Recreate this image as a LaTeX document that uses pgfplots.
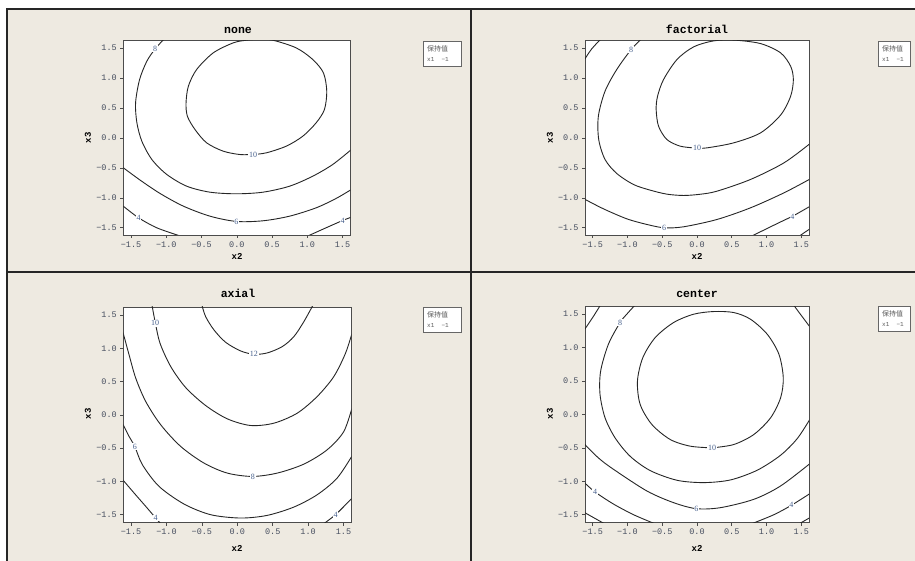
\documentclass[border=0pt]{standalone}
\usepackage{fontspec}
\setmainfont{Liberation Serif}
\newfontfamily\monof{Liberation Mono}
\newfontfamily\cjk{Noto Sans CJK SC}
\usepackage{pgfplots}
\pgfplotsset{compat=1.18}
\definecolor{bg}{RGB}{238,234,225}
\definecolor{tickc}{RGB}{70,78,95}
\definecolor{lblc}{RGB}{70,95,140}
\pgfplotsset{
  ctr/.style={
    scale only axis,
    xmin=-1.61, xmax=1.61, ymin=-1.62, ymax=1.62,
    axis background/.style={fill=white},
    axis line style={black!70, line width=0.9pt},
    xtick={-1.5,-1,-0.5,0,0.5,1,1.5},
    ytick={-1.5,-1,-0.5,0,0.5,1,1.5},
    xticklabels={−1.5,−1.0,−0.5,0.0,0.5,1.0,1.5},
    yticklabels={−1.5,−1.0,−0.5,0.0,0.5,1.0,1.5},
    tick align=outside, tick pos=left,
    major tick length=3pt,
    tick style={black!70, line width=0.6pt},
    ticklabel style={font=\monof\fontsize{8.5}{9}\selectfont, text=tickc},
    clip=true,
  },
  cl/.style={black!85, line width=0.9pt, smooth, no markers},
}
\tikzset{cn/.style={fill=white, inner sep=0.8pt, font=\fontsize{8}{8}\selectfont, text=lblc}}
\begin{document}
\begin{tikzpicture}[x=1pt,y=1pt]
\fill[white] (0,0) rectangle (915,561);
\fill[bg] (7,0) rectangle (915,552);
\draw[black!85, line width=1.5pt] (7,0) -- (7,552) -- (915,552);
\draw[black!85, line width=1.5pt] (7,289) -- (915,289);
\draw[black!85, line width=1.5pt] (471,0) -- (471,552);

% ---------- panel 1: none ----------
\begin{axis}[ctr, at={(123.3pt,326pt)}, anchor=south west, width=227pt, height=194.3pt]
\addplot[cl] coordinates {(0.231,-0.278) (0.419,-0.25) (0.701,-0.139) (0.937,0.028) (1.125,0.25) (1.243,0.472) (1.276,0.778) (1.229,1.083) (1.078,1.306) (0.843,1.5) (0.513,1.628) (0.325,1.645) (0.137,1.628) (-0.052,1.583) (-0.334,1.417) (-0.570,1.139) (-0.687,0.861) (-0.720,0.583) (-0.701,0.361) (-0.593,0.139) (-0.428,-0.083) (-0.193,-0.222) (0.042,-0.278) (0.231,-0.278)};
\addplot[cl] coordinates {(-1.03,1.65) (-1.158,1.483) (-1.276,1.278) (-1.379,0.972) (-1.436,0.583) (-1.417,0.25) (-1.347,-0.056) (-1.205,-0.361) (-0.993,-0.611) (-0.711,-0.806) (-0.381,-0.906) (-0.005,-0.933) (0.372,-0.906) (0.749,-0.806) (1.078,-0.639) (1.361,-0.444) (1.62,-0.20)};
\addplot[cl] coordinates {(-1.62,-0.49) (-1.370,-0.706) (-1.088,-0.928) (-0.758,-1.139) (-0.381,-1.306) (-0.005,-1.394) (0.372,-1.383) (0.749,-1.306) (1.125,-1.167) (1.408,-1.011) (1.62,-0.865)};
\addplot[cl] coordinates {(-1.62,-1.13) (-1.394,-1.333) (-1.135,-1.5) (-0.82,-1.63)};
\addplot[cl] coordinates {(1.02,-1.63) (1.266,-1.5) (1.502,-1.378) (1.62,-1.325)};
\node[cn] at (axis cs:0.231,-0.278) {10};
\node[cn] at (axis cs:-1.158,1.483) {8};
\node[cn] at (axis cs:-0.005,-1.40) {6};
\node[cn] at (axis cs:-1.394,-1.333) {4};
\node[cn] at (axis cs:1.50,-1.378) {4};
\end{axis}

% ---------- panel 2: factorial ----------
\begin{axis}[ctr, at={(585pt,326pt)}, anchor=south west, width=224pt, height=194.3pt]
\addplot[cl] coordinates {(0.0,-0.172) (0.144,-0.167) (0.529,-0.083) (0.913,0.083) (1.202,0.38) (1.346,0.694) (1.385,0.972) (1.346,1.194) (1.202,1.417) (0.913,1.572) (0.529,1.63) (0.240,1.617) (-0.048,1.517) (-0.288,1.306) (-0.481,0.972) (-0.567,0.694) (-0.587,0.472) (-0.553,0.194) (-0.433,-0.028) (-0.240,-0.139) (0.0,-0.172)};
\addplot[cl] coordinates {(-0.80,1.65) (-0.947,1.472) (-1.154,1.139) (-1.322,0.778) (-1.418,0.361) (-1.413,-0.028) (-1.322,-0.361) (-1.154,-0.594) (-0.913,-0.778) (-0.673,-0.872) (-0.433,-0.939) (-0.192,-0.961) (0.05,-0.94) (0.288,-0.889) (0.769,-0.694) (1.25,-0.417) (1.62,-0.10)};
\addplot[cl] coordinates {(-1.62,1.30) (-1.514,1.483) (-1.38,1.65)};
\addplot[cl] coordinates {(-1.62,-1.02) (-1.346,-1.183) (-1.010,-1.35) (-0.721,-1.444) (-0.471,-1.5) (-0.192,-1.483) (0.288,-1.361) (0.769,-1.167) (1.25,-0.917) (1.62,-0.69)};
\addplot[cl] coordinates {(0.80,-1.63) (1.058,-1.483) (1.25,-1.375) (1.394,-1.294) (1.62,-1.145)};
\addplot[cl] coordinates {(1.48,-1.63) (1.62,-1.52)};
\node[cn] at (axis cs:0.0,-0.172) {10};
\node[cn] at (axis cs:-0.947,1.472) {8};
\node[cn] at (axis cs:-0.471,-1.5) {6};
\node[cn] at (axis cs:1.37,-1.31) {4};
\end{axis}

% ---------- panel 3: axial ----------
\begin{axis}[ctr, at={(123.3pt,38.3pt)}, anchor=south west, width=228pt, height=215.7pt]
\addplot[cl] coordinates {(-0.50,1.65) (-0.447,1.475) (-0.329,1.275) (-0.165,1.09) (0.047,0.96) (0.235,0.91) (0.423,0.93) (0.635,1.025) (0.799,1.175) (0.940,1.4) (1.07,1.65)};
\addplot[cl] coordinates {(-1.205,1.65) (-1.161,1.4) (-1.091,1.075) (-0.940,0.725) (-0.729,0.41) (-0.447,0.14) (-0.141,-0.06) (0.188,-0.16) (0.517,-0.125) (0.846,0.025) (1.128,0.275) (1.363,0.575) (1.528,0.925) (1.63,1.26)};
\addplot[cl] coordinates {(-1.63,1.30) (-1.528,0.9) (-1.434,0.55) (-1.293,0.2) (-1.081,-0.15) (-0.799,-0.475) (-0.470,-0.725) (-0.141,-0.875) (0.212,-0.925) (0.564,-0.875) (0.940,-0.74) (1.269,-0.525) (1.504,-0.25) (1.63,0.14)};
\addplot[cl] coordinates {(-1.63,-0.11) (-1.528,-0.325) (-1.448,-0.475) (-1.340,-0.75) (-1.105,-1.075) (-0.752,-1.34) (-0.376,-1.5) (0.047,-1.55) (0.423,-1.51) (0.799,-1.385) (1.128,-1.2) (1.410,-0.95) (1.63,-0.60)};
\addplot[cl] coordinates {(-1.63,-0.96) (-1.457,-1.175) (-1.293,-1.375) (-1.152,-1.55) (-1.07,-1.65)};
\addplot[cl] coordinates {(1.20,-1.65) (1.387,-1.5) (1.63,-1.24)};
\node[cn] at (axis cs:0.235,0.91) {12};
\node[cn] at (axis cs:-1.16,1.375) {10};
\node[cn] at (axis cs:0.22,-0.925) {8};
\node[cn] at (axis cs:-1.448,-0.475) {6};
\node[cn] at (axis cs:-1.152,-1.55) {4};
\node[cn] at (axis cs:1.387,-1.5) {4};
\end{axis}

% ---------- panel 4: center ----------
\begin{axis}[ctr, at={(585pt,38.3pt)}, anchor=south west, width=224pt, height=216.5pt]
\addplot[cl] coordinates {(0.216,-0.5) (0.529,-0.45) (0.817,-0.3) (1.058,-0.05) (1.202,0.25) (1.240,0.55) (1.178,0.9) (1.010,1.2) (0.769,1.425) (0.529,1.525) (0.240,1.54) (-0.048,1.5) (-0.337,1.375) (-0.601,1.15) (-0.779,0.85) (-0.856,0.5) (-0.817,0.15) (-0.649,-0.15) (-0.385,-0.375) (-0.096,-0.475) (0.216,-0.5)};
\addplot[cl] coordinates {(-0.87,1.66) (-1.010,1.5) (-1.106,1.375) (-1.274,1.05) (-1.385,0.65) (-1.394,0.3) (-1.322,-0.05) (-1.178,-0.35) (-0.962,-0.625) (-0.673,-0.84) (-0.288,-0.985) (0.096,-1.02) (0.481,-0.98) (0.865,-0.835) (1.202,-0.61) (1.442,-0.36) (1.63,-0.06)};
\addplot[cl] coordinates {(-1.63,-0.43) (-1.418,-0.65) (-1.202,-0.82) (-0.721,-1.145) (-0.337,-1.32) (-0.010,-1.41) (0.337,-1.395) (0.817,-1.27) (1.202,-1.07) (1.63,-0.73)};
\addplot[cl] coordinates {(-1.63,1.25) (-1.50,1.45) (-1.38,1.65)};
\addplot[cl] coordinates {(1.38,1.65) (1.50,1.48) (1.63,1.30)};
\addplot[cl] coordinates {(-1.63,-1.01) (-1.466,-1.16) (-1.202,-1.34) (-0.913,-1.5) (-0.62,-1.63)};
\addplot[cl] coordinates {(0.80,-1.63) (1.106,-1.5) (1.356,-1.36) (1.63,-1.18)};
\addplot[cl] coordinates {(-1.63,-1.46) (-1.34,-1.63)};
\addplot[cl] coordinates {(1.48,-1.63) (1.63,-1.54)};
\node[cn] at (axis cs:0.216,-0.5) {10};
\node[cn] at (axis cs:-1.106,1.375) {8};
\node[cn] at (axis cs:-0.010,-1.41) {6};
\node[cn] at (axis cs:-1.466,-1.16) {4};
\node[cn] at (axis cs:1.356,-1.36) {4};
\end{axis}

% ---------- titles ----------
\tikzset{ttl/.style={anchor=base, font=\monof\bfseries\fontsize{11.5}{11.5}\selectfont},
  axl/.style={font=\monof\bfseries\fontsize{9}{9}\selectfont},
  lg/.style={fill=white, draw=black!60, line width=0.8pt},
  lgt/.style={anchor=west, inner sep=0pt, text=black!65}}
\node[ttl] at (238,527) {none};
\node[ttl] at (697,527) {factorial};
\node[ttl] at (238,263) {axial};
\node[ttl] at (697,263) {center};
% axis labels
\node[axl] at (237,305) {x2};
\node[axl] at (697,305) {x2};
\node[axl] at (237,13) {x2};
\node[axl] at (697,13) {x2};
\node[axl, rotate=90] at (88,423) {x3};
\node[axl, rotate=90] at (550,423) {x3};
\node[axl, rotate=90] at (88,147) {x3};
\node[axl, rotate=90] at (550,147) {x3};
% legends
\foreach \lx/\rx/\ty in {423/461/520, 878/910/520, 423/461/254, 878/910/255} {
  \draw[lg] (\lx,\ty-25) rectangle (\rx,\ty);
  \node[lgt, font=\cjk\fontsize{7}{7}\selectfont] at (\lx+4,\ty-7.5) {保持值};
  \node[lgt, font=\monof\fontsize{6}{6}\selectfont] at (\lx+4,\ty-18.5) {x1~~−1};
}
\pgfresetboundingbox
\useasboundingbox (0,0) rectangle (915,561);
\end{tikzpicture}
\end{document}
